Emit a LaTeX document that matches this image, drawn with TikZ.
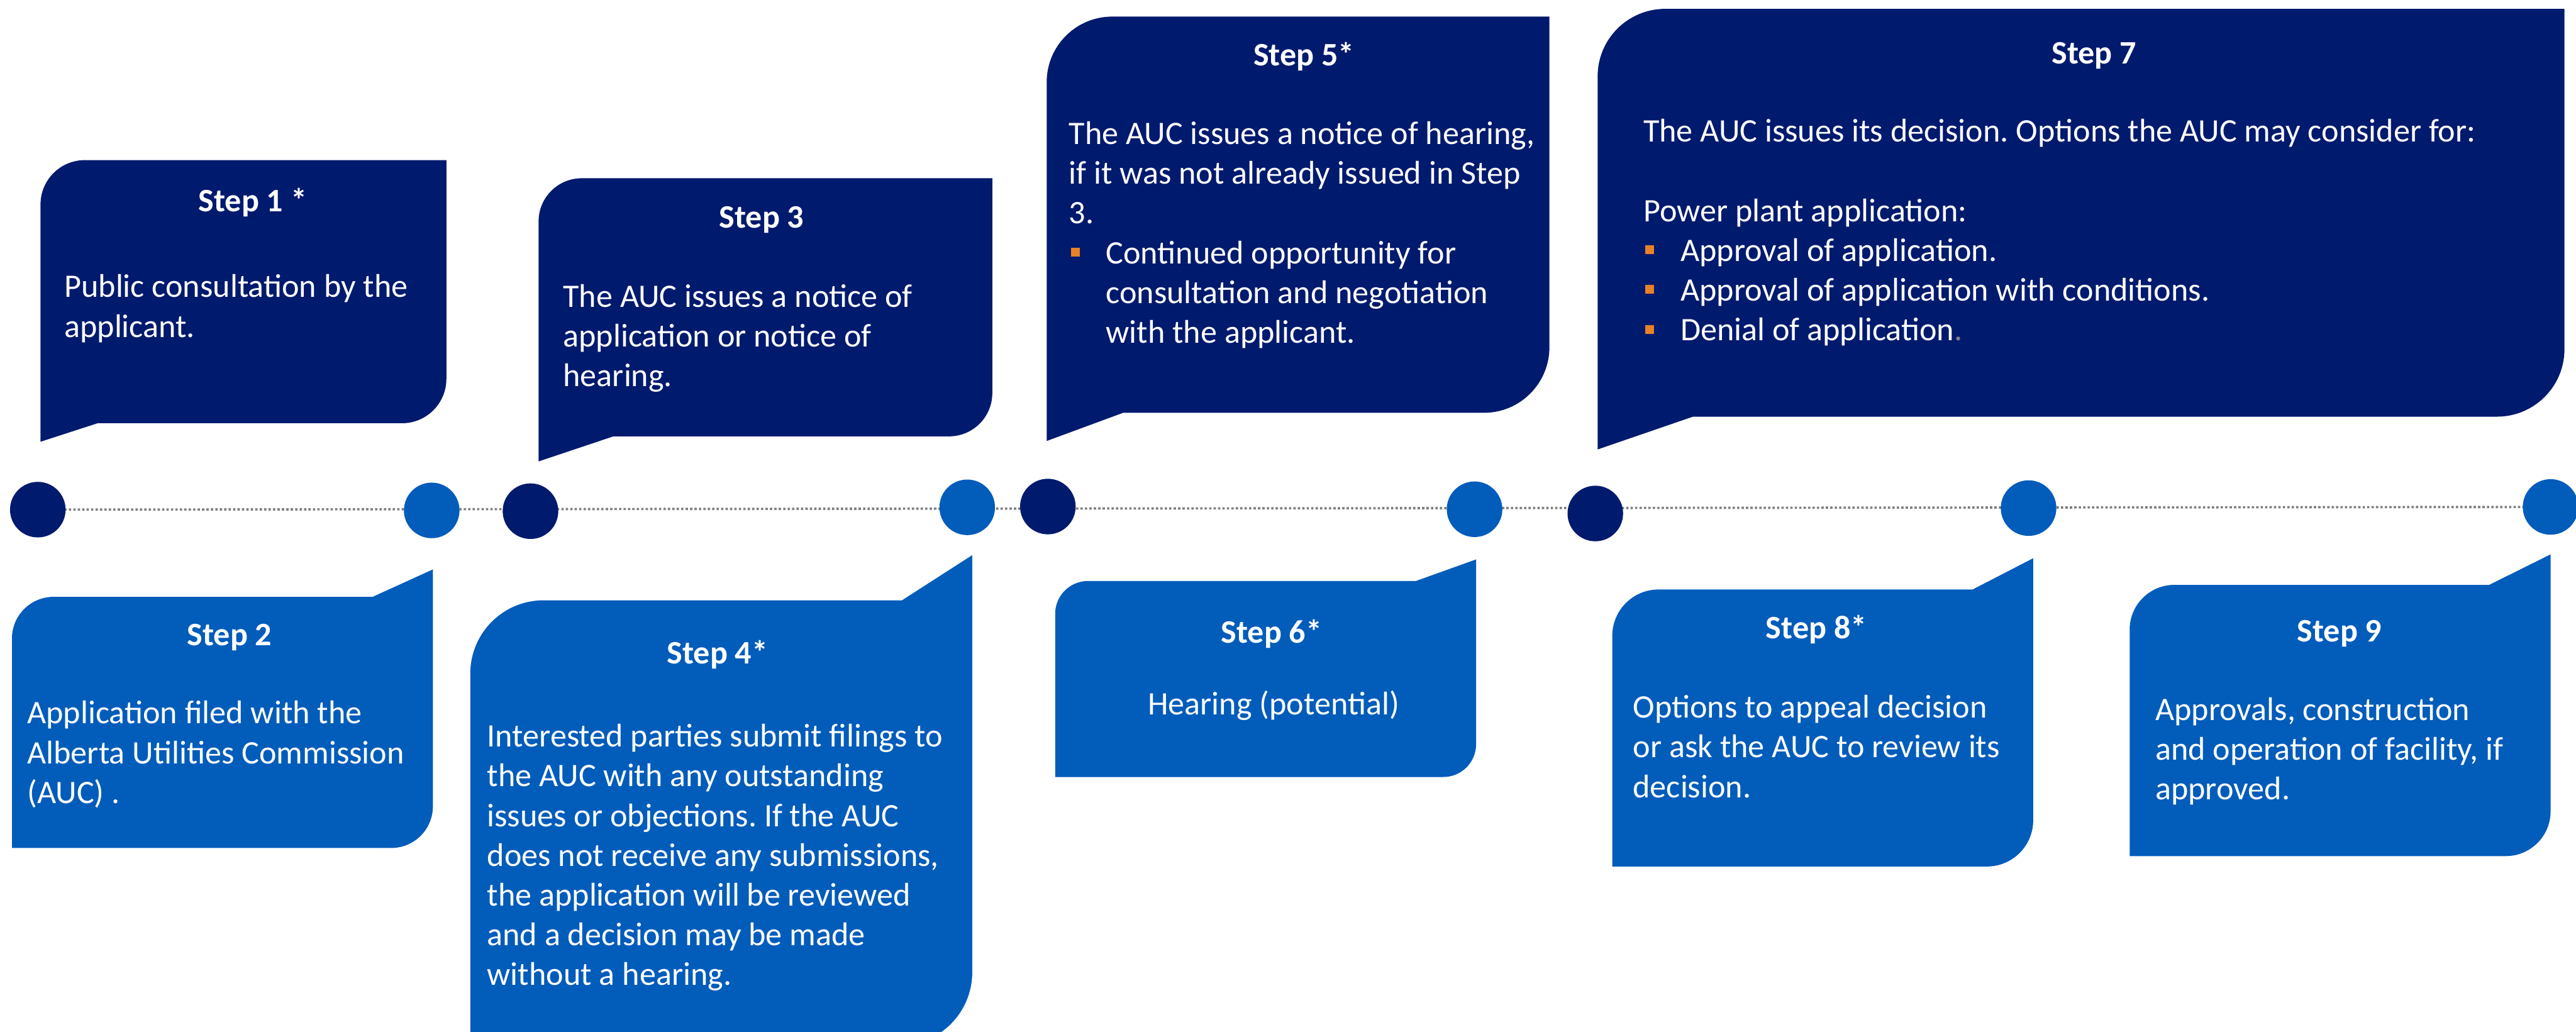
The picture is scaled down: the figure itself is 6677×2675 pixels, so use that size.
\documentclass[tikz,border=0pt]{standalone}
\usepackage{fontspec}
\setmainfont{Carlito}
\frenchspacing
\usepackage{xcolor}
\definecolor{navy}{HTML}{001A6E}
\definecolor{blu}{HTML}{025CBA}
\definecolor{orng}{HTML}{E88228}
\definecolor{tgray}{HTML}{7F7F7F}
\usepackage{tikz}
\usetikzlibrary{backgrounds}
\tikzset{
  ttl/.style={font=\fontsize{24.2}{29.3}\selectfont\bfseries,text=white,anchor=base,inner sep=0pt},
  % multi-line text: placed at the baseline of its last line
  txt/.style={font=\fontsize{24.2}{29.3}\selectfont,text=white,align=left,anchor=base west,inner sep=0pt},
  dkdot/.style={circle,fill=navy,minimum size=14.4mm,inner sep=0pt},
  ltdot/.style={dkdot,fill=blu},
  tline/.style={draw=tgray,line width=0.6mm,dash pattern=on 0.6mm off 0.55mm},
}
% orange square bullet and the hanging indent after it
\newcommand{\bul}{\makebox[9.6mm][l]{\hspace{0.5mm}\textcolor{orng}{\rule[1.8mm]{2.3mm}{2.3mm}}}}
\newcommand{\ind}{\hspace*{9.6mm}}
% callout above the line: colour, left, top, right, bottom, tail tip, tail foot, radius
\newcommand{\upcall}[8]{%
  \fill[#1] (#2,-#6) -- (#7,-#5) -- (#4-#8,-#5) arc[start angle=-90,end angle=0,radius=#8]
    -- (#4,-#3) -- (#2+#8,-#3) arc[start angle=90,end angle=180,radius=#8] -- cycle;}
% callout below the line, tail on the top right
\newcommand{\downcall}[8]{%
  \fill[#1] (#7,-#3) -- (#4,-#6) -- (#4,-#5+#8) arc[start angle=0,end angle=-90,radius=#8]
    -- (#2,-#5) -- (#2,-#3-#8) arc[start angle=180,end angle=90,radius=#8] -- cycle;}

\begin{document}
\begin{tikzpicture}[x=0.1mm,y=0.1mm]
\useasboundingbox (0,0) rectangle (6677,-2675);

% timeline
\node[dkdot] (d1) at (98,-1321) {};
\node[ltdot] (d2) at (1119,-1323) {};
\node[dkdot] (d3) at (1375,-1325) {};
\node[ltdot] (d4) at (2507,-1315) {};
\node[dkdot] (d5) at (2716,-1313) {};
\node[ltdot] (d6) at (3822,-1320) {};
\node[dkdot] (d7) at (4135,-1331) {};
\node[ltdot] (d8) at (5258,-1317) {};
\node[ltdot] (d9) at (6611,-1314) {};
\begin{scope}[on background layer]
  \draw[tline] (d1.center) -- (d9.center);
\end{scope}

% callouts
\upcall{navy}{105}{415}{1157}{1097}{1145}{253}{115}
\upcall{navy}{1396}{462}{2572}{1131}{1196}{1590}{112}
\upcall{navy}{2713}{43}{4016}{1070}{1143}{2911}{170}
\upcall{navy}{4141}{23}{6647}{1080}{1165}{4388}{175}
\downcall{blu}{31}{1547}{1122}{2198}{1476}{966}{108}
\downcall{blu}{1219}{1556}{2520}{2710}{1439}{2338}{190}
\downcall{blu}{2735}{1506}{3826}{2014}{1450}{3670}{85}
\downcall{blu}{4179}{1528}{5270}{2246}{1447}{5113}{120}
\downcall{blu}{5520}{1516}{6611}{2219}{1437}{6452}{116}

% step 1
\node[ttl] (t1) at (655,-549) {Step 1 *};
\node[txt] (b1) at (166,-874) {Public consultation by the\\applicant.};
% step 2
\node[ttl] (t2) at (595,-1673) {Step 2};
\node[txt] (b2) at (70,-2082) {Application filed with the\\Alberta Utilities Commission\\(AUC) .};
% step 3
\node[ttl] (t3) at (1974,-591) {Step 3};
\node[txt] (b3) at (1459,-1002) {The AUC issues a notice of\\application or notice of\\hearing.};
% step 4
\node[ttl] (t4) at (1860,-1721) {Step 4*};
\node[txt] (b4) at (1262,-2554) {Interested parties submit filings to\\the AUC with any outstanding\\issues or objections. If the AUC\\does not receive any submissions,\\the application will be reviewed\\and a decision may be made\\without a hearing.};
% step 5
\node[ttl] (t5) at (3380,-170) {Step 5*};
\node[txt] (b5) at (2770,-889) {The AUC issues a notice of hearing,\\if it was not already issued in Step\\3.\\\bul Continued opportunity for\\\ind consultation and negotiation\\\ind with the applicant.};
% step 6
\node[ttl] (t6) at (3296,-1667) {Step 6*};
\node[txt,anchor=base] (b6) at (3301,-1853) {Hearing (potential)};
% step 7
\node[ttl] (t7) at (5428,-166) {Step 7};
\node[txt] (b7) at (4259,-883) {The AUC issues its decision. Options the AUC may consider for:\\[10.3mm]Power plant application:\\\bul Approval of application.\\\bul Approval of application with conditions.\\\bul Denial of application\textcolor{tgray}{.}};
% step 8
\node[ttl] (t8) at (4708,-1656) {Step 8*};
\node[txt] (b8) at (4232,-2067) {Options to appeal decision\\or ask the AUC to review its\\decision.};
% step 9
\node[ttl] (t9) at (6064,-1663) {Step 9};
\node[txt] (b9) at (5586,-2073) {Approvals, construction\\and operation of facility, if\\approved.};
\end{tikzpicture}
\end{document}
